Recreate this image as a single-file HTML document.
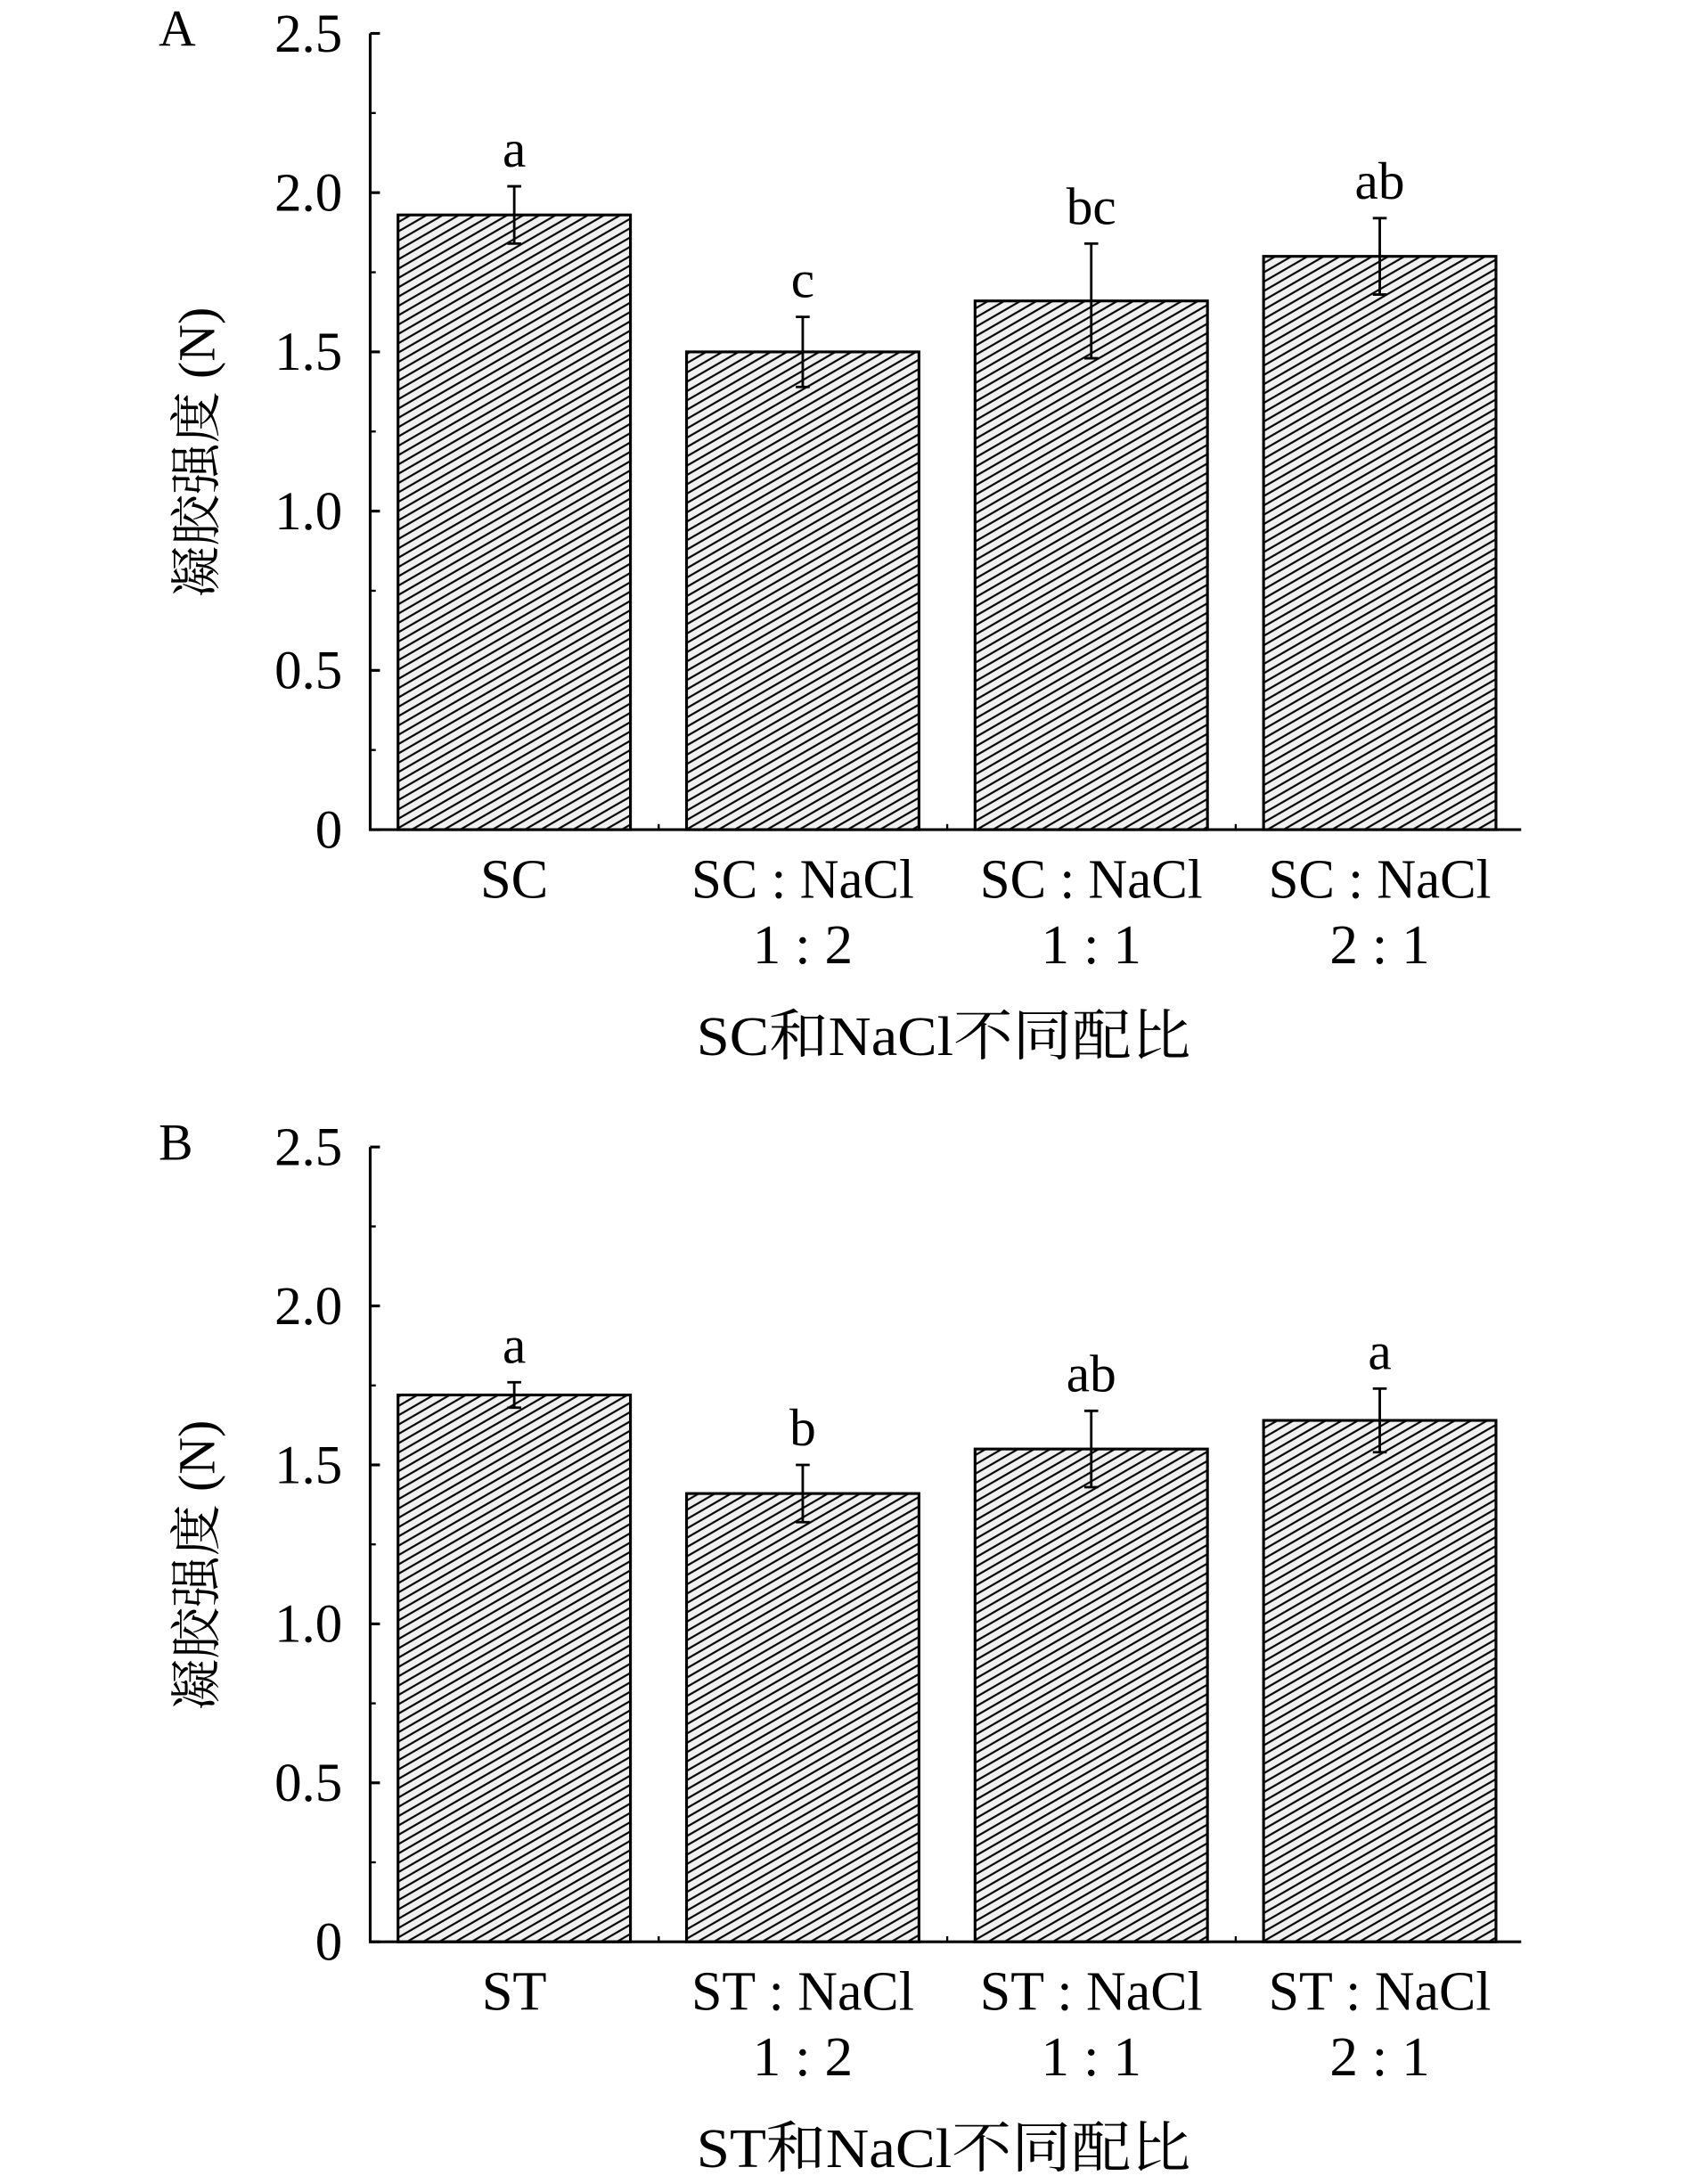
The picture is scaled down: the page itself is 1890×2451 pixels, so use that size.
<!DOCTYPE html>
<html><head><meta charset="utf-8">
<style>
html,body{margin:0;padding:0;background:#fff;}
svg{display:block;}
text{font-family:"Liberation Serif","Noto Serif CJK SC",serif;fill:#000;}
</style></head>
<body>
<svg id="chart" width="1890" height="2451" viewBox="0 0 1210 1569" preserveAspectRatio="none" xmlns="http://www.w3.org/2000/svg">
<defs>
<pattern id="hatch" patternUnits="userSpaceOnUse" width="20" height="5.8" patternTransform="rotate(-30)">
<rect width="20" height="5.8" fill="#f0f0f0"/>
<line x1="0" y1="2.9" x2="20" y2="2.9" stroke="#000" stroke-width="1.3"/>
</pattern>
</defs>
</svg>
<script>
const categoriesA = [["SC",""],["SC : NaCl","1 : 2"],["SC : NaCl","1 : 1"],["SC : NaCl","2 : 1"]];
const valuesA = [1.93, 1.50, 1.66, 1.80];
const errorsA = [0.09, 0.11, 0.18, 0.12];
const lettersA = ["a","c","bc","ab"];
const categoriesB = [["ST",""],["ST : NaCl","1 : 2"],["ST : NaCl","1 : 1"],["ST : NaCl","2 : 1"]];
const valuesB = [1.72, 1.41, 1.55, 1.64];
const errorsB = [0.04, 0.09, 0.12, 0.10];
const lettersB = ["a","b","ab","a"];
const tickLabels = ["0","0.5","1.0","1.5","2.0","2.5"];
const tickValues = [0,0.5,1.0,1.5,2.0,2.5];

const NS="http://www.w3.org/2000/svg";
const svg=document.getElementById('chart');
function mk(tag,attrs,parent){const e=document.createElementNS(NS,tag);for(const k in attrs)e.setAttribute(k,attrs[k]);(parent||svg).appendChild(e);return e;}

function panel(label,top,base,cats,vals,errs,letters,title,name){
  const g=mk('g',{});
  
  
  const x0=266,x1=1093,ymax=2.5;
  const y=v=>base-(v/ymax)*(base-top);
  const bw=167;
  const cx=i=>x0+20+bw/2+i*207.3;
  const pl=mk('text',{x:114,y:top+9,'font-size':37},g);pl.textContent=label;
  
  
  vals.forEach((v,i)=>{
    const r=mk('rect',{x:cx(i)-bw/2,y:y(v),width:bw,height:base-y(v),fill:'url(#hatch)',stroke:'#000','stroke-width':2},g);
    
    
    const e=mk('path',{d:`M${cx(i)} ${y(v+errs[i])}V${y(v-errs[i])}M${cx(i)-5} ${y(v+errs[i])}H${cx(i)+5}M${cx(i)-5} ${y(v-errs[i])}H${cx(i)+5}`,stroke:'#000','stroke-width':1.8,fill:'none'},g);
    
    
    const t=mk('text',{x:cx(i),y:y(v+errs[i])-14,'font-size':38,'text-anchor':'middle'},g);t.textContent=letters[i];
    
    
    const a1={x:cx(i),y:base+49,'font-size':40,'text-anchor':'middle'};
    if(cats[i][1]){a1.textLength=160;a1.lengthAdjust='spacingAndGlyphs';}
    const c1=mk('text',a1,g);c1.textContent=cats[i][0];
    
    
    if(cats[i][1]){const c2=mk('text',{x:cx(i),y:base+96,'font-size':40,'text-anchor':'middle',textLength:72,lengthAdjust:'spacingAndGlyphs'},g);c2.textContent=cats[i][1];
    
    }
  });
  const ax=mk('path',{d:`M${x0} ${top}V${base}H${x1}`,stroke:'#000','stroke-width':2,fill:'none'},g);
  
  
  tickValues.forEach((v,i)=>{
    mk('line',{x1:x0,x2:x0+7,y1:y(v),y2:y(v),stroke:'#000','stroke-width':2},g);
    if(i<tickValues.length-1) mk('line',{x1:x0,x2:x0+4,y1:y(v+0.25),y2:y(v+0.25),stroke:'#000','stroke-width':1.5},g);
    const t=mk('text',{x:246,y:y(v)+13,'font-size':39,'text-anchor':'end'},g);t.textContent=tickLabels[i];
    
    
  });
  for(let i=1;i<4;i++) mk('line',{x1:x0+i*207.3,x2:x0+i*207.3,y1:base,y2:base-4,stroke:'#000','stroke-width':1.5},g);
  const yt=mk('text',{x:0,y:0,'font-size':37,'text-anchor':'middle',transform:`translate(154 ${(top+base)/2+15}) rotate(-90)`},g);
  yt.textContent='凝胶强度 (N)';
  
  
  const xt=mk('text',{x:678,y:base+162,'font-size':40,'text-anchor':'middle',textLength:355,lengthAdjust:'spacingAndGlyphs'},g);xt.textContent=title;
  
  
}
panel('A',24,596,categoriesA,valuesA,errorsA,lettersA,'SC和NaCl不同配比','panel-a');
panel('B',824,1395,categoriesB,valuesB,errorsB,lettersB,'ST和NaCl不同配比','panel-b');
</script>
</body></html>
